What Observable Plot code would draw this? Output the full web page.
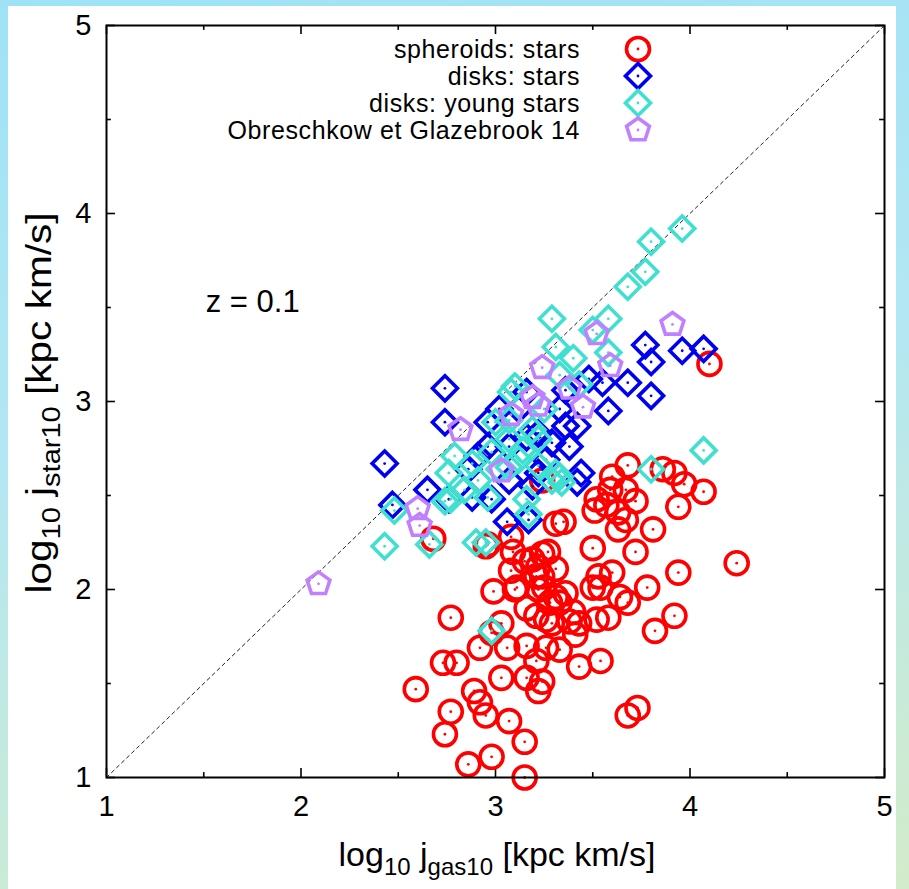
<!DOCTYPE html>
<html><head><meta charset="utf-8">
<script src="https://cdn.jsdelivr.net/npm/d3@7"></script>
<script src="https://cdn.jsdelivr.net/npm/@observablehq/plot@0.6"></script>
<style>
html,body{margin:0;padding:0;}
body{width:909px;height:889px;overflow:hidden;position:relative;
  background:linear-gradient(170deg,#9fe2f6 0%,#b3e7f3 45%,#d3ecca 100%);}
#panel{position:absolute;left:8px;top:6px;width:888px;height:883px;background:#fff;}
#chart{position:absolute;left:0;top:0;}
</style></head><body><div id="panel"></div><div id="chart"></div>
<script>
// ---- data ----
const spheroidX = [4.10,4.24,3.68,3.86,3.92,3.97,4.07,3.72,3.94,3.81,3.72,3.94,3.78,3.68,3.92,3.82,3.60,3.59,3.63,3.63,3.57,3.52,3.50,3.53,3.54,3.64,3.58,3.40,3.33,3.25,3.16,2.99,3.08,3.19,3.27,3.35,3.31,3.31,3.21,3.38,3.60,3.67,3.51,2.96,3.09,3.15,3.24,3.22,3.24,3.22,3.10,3.36,3.28,2.77,3.21,3.43,3.52,3.08,3.03,3.26,2.98,2.92,3.06,3.16,3.26,3.33,2.73,2.80,3.03,3.16,3.24,3.22,2.59,2.89,3.43,3.54,3.41,2.77,2.92,2.95,3.07,2.74,3.15,2.98,2.86,3.15,3.68,3.73,3.11,3.31,3.29,3.21,2.68,2.95,3.67,3.24,3.50];
const spheroidY = [3.20,2.14,2.66,2.64,2.62,2.56,2.52,2.47,2.44,2.32,2.20,2.09,2.01,1.93,1.86,1.78,2.09,2.53,2.41,2.32,2.45,2.48,2.22,2.07,2.01,1.96,1.85,1.88,1.93,2.01,1.90,1.99,2.10,2.16,2.20,2.36,2.35,2.11,2.07,1.83,2.60,2.37,2.42,2.24,2.20,2.15,2.19,2.12,2.07,2.00,2.00,1.98,1.93,1.85,1.86,1.82,1.84,2.28,1.82,1.84,1.77,1.69,1.69,1.70,1.69,1.68,1.61,1.61,1.53,1.53,1.51,1.46,1.47,1.46,1.59,1.62,1.76,1.35,1.40,1.33,1.30,1.23,1.19,1.11,1.07,1.00,1.33,1.37,2.01,1.96,1.82,1.62,2.27,2.23,2.53,2.58,2.01];
const diskX = [3.77,3.80,3.96,4.07,3.68,3.80,3.58,3.42,2.74,2.74,2.43,2.47,2.65,2.76,3.06,3.17,2.98,2.91,3.07,3.22,2.96,2.96,3.16,3.22,3.29,3.36,3.44,2.88,3.07,3.19,3.55,3.48,3.16,3.38,3.26,2.86,3.12,3.33,3.02,3.42,3.36];
const diskY = [3.30,3.21,3.27,3.28,3.10,3.03,2.95,2.87,3.07,2.89,2.67,2.45,2.53,2.48,2.36,2.37,2.48,2.71,2.76,2.62,2.89,2.76,2.81,2.83,2.78,2.87,2.62,2.49,2.58,2.55,3.10,3.12,3.05,2.76,2.69,2.64,2.96,2.96,2.96,2.57,3.06];
const youngX = [3.96,3.80,3.77,3.68,3.29,3.58,3.50,3.31,3.40,3.58,3.33,3.10,3.08,4.07,3.80,3.33,3.17,2.95,2.98,2.48,2.43,2.66,2.90,2.74,2.76,2.96,2.79,3.00,3.07,3.14,3.22,2.98,3.07,2.91,3.31,2.84,3.29,3.07,3.19,3.16,3.25,3.43,3.12,3.22,3.02,2.88,2.77,3.34];
const youngY = [3.92,3.85,3.69,3.61,3.44,3.44,3.38,3.29,3.23,3.26,3.14,3.08,3.05,2.74,2.64,2.60,2.40,2.25,1.78,2.42,2.23,2.24,2.25,2.47,2.62,2.49,2.71,2.89,2.80,2.74,2.80,2.73,2.65,2.58,2.62,2.53,2.58,2.90,2.85,2.48,2.96,3.09,2.69,2.66,2.64,2.67,2.48,2.57];
const ogX = [2.09,2.60,2.61,3.03,2.82,3.08,3.22,3.24,3.38,3.45,3.59,3.52,3.91,3.19];
const ogY = [2.03,2.43,2.34,2.63,2.85,2.93,2.98,3.18,3.07,2.97,3.19,3.36,3.41,3.02];
const seriesNames = ["spheroids: stars","disks: stars","disks: young stars","Obreschkow et Glazebrook 14"];
const seriesColors = ["#ff0000","#0000f0","#40e0d0","#c080ff"];
const xTicks = [1,2,3,4,5];
const yTicks = [1,2,3,4,5];
const minorTicks = [1.5,2.5,3.5,4.5];
const diagonal = [1,5];
const zLabel = ["z = 0.1"], zX = [1.51], zY = [3.53];

// ---- symbols ----
const diamondSym = {draw(ctx,size){const r=Math.sqrt(size/Math.PI);ctx.moveTo(0,-r);ctx.lineTo(r,0);ctx.lineTo(0,r);ctx.lineTo(-r,0);ctx.closePath();}};
const pentSym = {draw(ctx,size){const r=Math.sqrt(size/Math.PI);for(let i=0;i<5;i++){const a=-Math.PI/2+i*2*Math.PI/5;const x=r*Math.cos(a),y=r*Math.sin(a);if(i)ctx.lineTo(x,y);else ctx.moveTo(x,y);}ctx.closePath();}};
const symbols = [d3.symbolCircle, diamondSym, diamondSym, pentSym];
const radii = [11.5, 12.5, 12.5, 12];

const rows = (xs,ys)=>xs.map((x,i)=>({x,y:ys[i]}));
const spheroids = rows(spheroidX,spheroidY), disks = rows(diskX,diskY), young = rows(youngX,youngY), og = rows(ogX,ogY);
const SW = 3.6;
function series(data,i){
  return [
    Plot.dot(data,{x:"x",y:"y",r:radii[i],symbol:symbols[i],stroke:seriesColors[i],strokeWidth:SW,fill:"none",strokeLinejoin:"miter"}),
    Plot.dot(data,{x:"x",y:"y",r:1.4,fill:seriesColors[i],stroke:"none"})
  ];
}
const tk = 0.048, tkx = 0.046, mk = 0.026, mkx = 0.025;

const plot = Plot.plot({
  width:909, height:889,
  marginLeft:106, marginRight:25, marginTop:25, marginBottom:112,
  style:{background:"transparent", fontFamily:"'Liberation Sans', Arial, sans-serif", color:"black"},
  x:{domain:[1,5]}, y:{domain:[1,5]},
  marks:[
    Plot.line(diagonal.map(v=>({x:v,y:v})),{x:"x",y:"y",stroke:"#222",strokeWidth:1,strokeDasharray:"3.5,3.5"}),
    Plot.ruleX(xTicks,{x:d=>d,y1:1,y2:1+tk,stroke:"black",strokeWidth:1.6}),
    Plot.ruleX(xTicks,{x:d=>d,y1:5,y2:5-tk,stroke:"black",strokeWidth:1.6}),
    Plot.ruleX(minorTicks,{x:d=>d,y1:1,y2:1+mk,stroke:"black",strokeWidth:1.6}),
    Plot.ruleX(minorTicks,{x:d=>d,y1:5,y2:5-mk,stroke:"black",strokeWidth:1.6}),
    Plot.ruleY(yTicks,{y:d=>d,x1:1,x2:1+tkx,stroke:"black",strokeWidth:1.6}),
    Plot.ruleY(yTicks,{y:d=>d,x1:5,x2:5-tkx,stroke:"black",strokeWidth:1.6}),
    Plot.ruleY(minorTicks,{y:d=>d,x1:1,x2:1+mkx,stroke:"black",strokeWidth:1.6}),
    Plot.ruleY(minorTicks,{y:d=>d,x1:5,x2:5-mkx,stroke:"black",strokeWidth:1.6}),
    Plot.axisX({ticks:xTicks,tickSize:0,tickPadding:18,fontSize:29,label:null,tickFormat:d=>String(d)}),
    Plot.axisY({ticks:yTicks,tickSize:0,tickPadding:15,fontSize:29,label:null,tickFormat:d=>String(d)}),
    Plot.text(zLabel,{x:(d,i)=>zX[i],y:(d,i)=>zY[i],text:d=>d,textAnchor:"start",fontSize:31,fill:"black"}),
    ...series(spheroids,0),
    ...series(disks,1),
    ...series(young,2),
    ...series(og,3),
    Plot.frame({stroke:"black",strokeWidth:2})
  ]
});
document.getElementById("chart").appendChild(plot);

// ---- legend & axis titles ----
const svg = d3.select(plot);
const font = "'Liberation Sans', Arial, sans-serif";
const lg = svg.append("g").attr("font-family",font);
seriesNames.forEach((name,i)=>{
  const cy = 49 + i*27;
  lg.append("text").attr("x",580).attr("y",cy).attr("dy","0.35em").attr("text-anchor","end").attr("font-size",25).attr("letter-spacing","0.6px").attr("fill","black").text(name);
  lg.append("path").attr("transform",`translate(638,${cy})`).attr("d",d3.symbol(symbols[i],Math.PI*radii[i]*radii[i])()).attr("fill","none").attr("stroke",seriesColors[i]).attr("stroke-width",SW);
  lg.append("circle").attr("cx",638).attr("cy",cy).attr("r",1.4).attr("fill",seriesColors[i]);
});
function axisTitle(parts, x, y, rotate, fs, stretch){
  const sfs = Math.round(fs*0.7), sh = Math.round(fs*0.26);
  const t = svg.append("text").attr("font-family",font).attr("font-size",fs).attr("fill","black").attr("text-anchor","middle")
    .attr("transform",`translate(${x},${y})${rotate?" rotate(-90)":""} scale(${stretch},1)`);
  let sub=false;
  parts.forEach(([s,isSub])=>{
    const ts=t.append("tspan").text(s);
    if(isSub&&!sub){ts.attr("font-size",sfs).attr("dy",sh);sub=true;}
    else if(!isSub&&sub){ts.attr("dy",-sh);sub=false;}
    else if(isSub){ts.attr("font-size",sfs);}
  });
}
axisTitle([["log",false],["10",true],[" j",false],["gas10",true],[" [kpc km/s]",false]],497,866,false,34,1);
axisTitle([["log",false],["10",true],[" j",false],["star10",true],[" [kpc km/s]",false]],51,403,true,35,1.16);
</script></body></html>
